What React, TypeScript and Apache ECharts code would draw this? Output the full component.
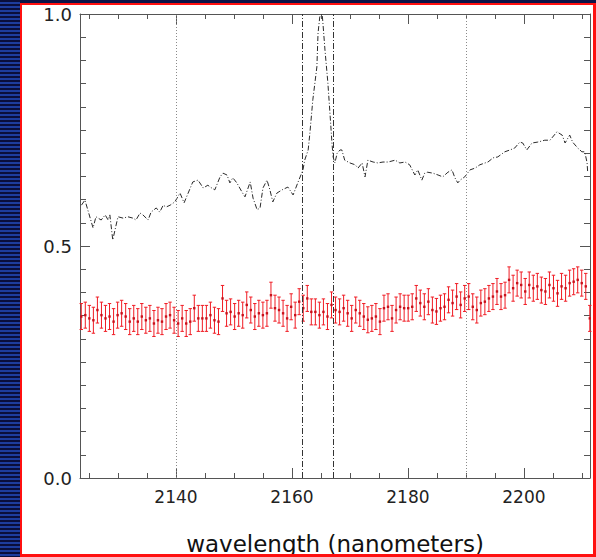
import React, { useEffect, useRef } from "react";
import * as echarts from "echarts";

// Normalised spectrum (wavelength in nm, relative flux)
const spectrumWavelength = [
  2123.7, 2124.3, 2125.7, 2126.2, 2127.1, 2127.8, 2128.3, 2128.6, 2129.1, 2130.0,
  2130.9, 2131.7, 2132.6, 2133.1, 2133.8, 2134.3, 2135.2, 2135.7, 2136.6, 2137.2,
  2137.8, 2138.3, 2139.0, 2139.8, 2140.7, 2141.4, 2142.1, 2142.9, 2143.8, 2144.7,
  2145.5, 2145.9, 2146.7, 2147.6, 2148.1, 2148.8, 2149.3, 2149.8, 2150.5, 2151.4,
  2151.9, 2152.8, 2153.3, 2154.0, 2154.5, 2155.0, 2155.7, 2156.2, 2156.7, 2157.4,
  2158.3, 2159.3, 2160.2, 2161.0, 2161.9, 2162.2, 2162.8, 2163.1, 2163.6, 2164.3,
  2164.5, 2164.8, 2165.2, 2165.3, 2165.7, 2166.2, 2166.6, 2166.9, 2167.1, 2167.4,
  2167.8, 2168.3, 2168.6, 2169.1, 2170.0, 2170.9, 2171.4, 2172.1, 2172.6, 2173.1,
  2174.0, 2174.8, 2175.7, 2176.6, 2177.8, 2178.6, 2179.5, 2180.3, 2181.2, 2181.7,
  2182.4, 2182.9, 2183.4, 2184.3, 2185.2, 2186.0, 2186.9, 2187.6, 2188.1, 2188.6,
  2189.0, 2189.8, 2190.7, 2191.6, 2192.4, 2193.3, 2193.8, 2194.7, 2195.5, 2196.7,
  2197.6, 2198.4, 2199.3, 2199.8, 2200.5, 2201.4, 2202.4, 2203.6, 2204.5, 2205.7,
  2206.6, 2207.1, 2207.9, 2208.4, 2209.3, 2210.0, 2210.5, 2210.9, 2211.0,
];
const spectrumFlux = [
  0.588, 0.599, 0.539, 0.563, 0.556, 0.567, 0.556, 0.567, 0.513, 0.563,
  0.560, 0.563, 0.560, 0.556, 0.571, 0.567, 0.556, 0.573, 0.582, 0.573,
  0.588, 0.584, 0.588, 0.595, 0.614, 0.593, 0.614, 0.638, 0.642, 0.625,
  0.631, 0.627, 0.621, 0.649, 0.657, 0.653, 0.636, 0.647, 0.636, 0.616,
  0.606, 0.638, 0.603, 0.578, 0.582, 0.625, 0.642, 0.621, 0.595, 0.614,
  0.621, 0.627, 0.610, 0.636, 0.664, 0.685, 0.707, 0.744, 0.815, 0.886,
  0.959, 0.994, 1.0, 0.987, 0.922, 0.851, 0.778, 0.722, 0.692, 0.679,
  0.700, 0.707, 0.707, 0.685, 0.679, 0.675, 0.668, 0.679, 0.649, 0.685,
  0.681, 0.679, 0.681, 0.681, 0.685, 0.679, 0.681, 0.675, 0.653, 0.664,
  0.642, 0.657, 0.659, 0.657, 0.653, 0.649, 0.659, 0.664, 0.647, 0.636,
  0.642, 0.649, 0.664, 0.668, 0.675, 0.679, 0.681, 0.690, 0.692, 0.703,
  0.707, 0.711, 0.724, 0.722, 0.707, 0.722, 0.724, 0.728, 0.728, 0.746,
  0.739, 0.722, 0.739, 0.724, 0.711, 0.703, 0.703, 0.679, 0.659,
];

// Binned ratio with error bars, sampled on a regular wavelength grid
const ratioStart = 2123.67;
const ratioStep = 0.696;
const ratioValues = [
  0.348, 0.351, 0.344, 0.340, 0.362, 0.351, 0.344, 0.348, 0.337, 0.351,
  0.355, 0.348, 0.337, 0.344, 0.337, 0.348, 0.340, 0.344, 0.333, 0.340,
  0.337, 0.348, 0.351, 0.340, 0.333, 0.344, 0.333, 0.337, 0.366, 0.344,
  0.344, 0.344, 0.351, 0.340, 0.337, 0.387, 0.355, 0.358, 0.348, 0.355,
  0.351, 0.373, 0.362, 0.348, 0.355, 0.351, 0.355, 0.394, 0.366, 0.362,
  0.355, 0.344, 0.369, 0.351, 0.380, 0.366, 0.387, 0.358, 0.358, 0.351,
  0.358, 0.348, 0.373, 0.362, 0.358,
  0.366, 0.355, 0.344, 0.362, 0.355, 0.348, 0.341, 0.344, 0.348, 0.337,
  0.366, 0.369, 0.344, 0.362, 0.369, 0.366, 0.366, 0.369, 0.387, 0.377,
  0.369, 0.380, 0.362, 0.359, 0.366, 0.369, 0.384, 0.377, 0.391, 0.373,
  0.387, 0.391, 0.369, 0.362, 0.377, 0.380, 0.387, 0.391, 0.402, 0.391,
  0.394, 0.427, 0.409, 0.420, 0.416, 0.402, 0.416, 0.409, 0.413, 0.405,
  0.402, 0.416, 0.409, 0.398, 0.413, 0.409, 0.420, 0.423, 0.427, 0.420,
  0.413, 0.344,
];
const ratioError = 0.028;

// Axis ticks
const xMin = 2123.45;
const xMax = 2211.4;
const xMajorTicks = [2140, 2160, 2180, 2200];
const xMinorTicks = [
  2125, 2130, 2135, 2140, 2145, 2150, 2155, 2160, 2165, 2170,
  2175, 2180, 2185, 2190, 2195, 2200, 2205, 2210,
];
// Reference markers
const dottedMarkers = [2140, 2190];
const lineWindow = [2161.7, 2167.1];

const FONT = "DejaVu Sans";
const AXIS_COLOR = "#555";

export default function App() {
  const ref = useRef<HTMLDivElement>(null);

  useEffect(() => {
    if (!ref.current) return;
    const chart = echarts.init(ref.current, null, { renderer: "svg" });

    const spectrum = spectrumWavelength.map((w, i) => [w, spectrumFlux[i]]);
    const ratio = ratioValues.map((v, i) => [
      +(ratioStart + i * ratioStep).toFixed(3),
      v,
      ratioError,
    ]);

    const xAxisBase = (position: "bottom" | "top", ticks: number[], len: number, labels: boolean, line: boolean) => ({
      type: "value",
      position,
      min: xMin,
      max: xMax,
      axisLine: { show: line, onZero: false, lineStyle: { color: AXIS_COLOR, width: 1 } },
      axisTick: {
        show: true,
        inside: true,
        length: len,
        customValues: ticks,
        lineStyle: { color: AXIS_COLOR, width: 1 },
      },
      axisLabel: labels
        ? {
            show: true,
            customValues: ticks,
            fontFamily: FONT,
            fontSize: 17,
            color: "#222",
            margin: 10,
            formatter: (v: number) => String(Math.round(v)),
          }
        : { show: false },
      splitLine: { show: false },
    });

    const bottomMajor: any = xAxisBase("bottom", xMajorTicks, 10, true, true);
    bottomMajor.name = "wavelength (nanometers)";
    bottomMajor.nameLocation = "middle";
    bottomMajor.nameGap = 54;
    bottomMajor.nameTextStyle = { fontFamily: FONT, fontSize: 23, color: "#111" };

    const yAxisBase = (position: "left" | "right", labels: boolean) => ({
      type: "value",
      position,
      min: 0,
      max: 1,
      interval: 0.5,
      axisLine: { show: true, onZero: false, lineStyle: { color: AXIS_COLOR, width: 1 } },
      axisTick: { show: true, inside: true, length: 10, lineStyle: { color: AXIS_COLOR } },
      minorTick: { show: true, splitNumber: 10, length: 6, lineStyle: { color: AXIS_COLOR } },
      axisLabel: labels
        ? {
            show: true,
            fontFamily: FONT,
            fontSize: 18,
            color: "#222",
            margin: 8,
            formatter: (v: number) => v.toFixed(1),
          }
        : { show: false },
      splitLine: { show: false },
      minorSplitLine: { show: false },
    });

    chart.setOption({
      animation: false,
      backgroundColor: "#ffffff",
      grid: {
        left: 80,
        top: 14,
        right: 6,
        bottom: 79,
        containLabel: false,
        outerBoundsMode: "none",
      },
      xAxis: [
        bottomMajor,
        xAxisBase("bottom", xMinorTicks, 5, false, false),
        xAxisBase("top", xMajorTicks, 10, false, true),
        xAxisBase("top", xMinorTicks, 5, false, false),
      ],
      yAxis: [yAxisBase("left", true), yAxisBase("right", false)],
      series: [
        {
          type: "line",
          data: spectrum,
          xAxisIndex: 0,
          yAxisIndex: 0,
          showSymbol: false,
          symbol: "none",
          lineStyle: { color: "#2a2a2a", width: 1, type: [5, 2, 1, 2] },
          silent: true,
          markLine: {
            silent: true,
            symbol: ["none", "none"],
            label: { show: false },
            data: [
              ...dottedMarkers.map((x) => ({
                xAxis: x,
                lineStyle: { color: "#8a8a8a", width: 1, type: [1, 2] },
              })),
              ...lineWindow.map((x) => ({
                xAxis: x,
                lineStyle: { color: "#333", width: 1, type: [6, 2, 1, 2] },
              })),
            ],
          },
        },
        {
          type: "custom",
          xAxisIndex: 0,
          yAxisIndex: 0,
          data: ratio,
          encode: { x: 0, y: 1 },
          silent: true,
          renderItem: (params: any, api: any) => {
            const x = api.value(0);
            const y = api.value(1);
            const e = api.value(2);
            const c = api.coord([x, y]);
            const lo = api.coord([x, y - e]);
            const hi = api.coord([x, y + e]);
            const cap = 1.7;
            const stroke = { stroke: "#f01c24", lineWidth: 1 };
            return {
              type: "group",
              children: [
                { type: "line", shape: { x1: c[0], y1: lo[1], x2: c[0], y2: hi[1] }, style: stroke },
                { type: "line", shape: { x1: c[0] - cap, y1: lo[1], x2: c[0] + cap, y2: lo[1] }, style: stroke },
                { type: "line", shape: { x1: c[0] - cap, y1: hi[1], x2: c[0] + cap, y2: hi[1] }, style: stroke },
                { type: "rect", shape: { x: c[0] - 1.2, y: c[1] - 1.2, width: 2.4, height: 2.4 }, style: { fill: "#c8101a" } },
              ],
            };
          },
        },
      ],
    });

    return () => chart.dispose();
  }, []);

  return (
    <div
      style={{
        position: "fixed",
        left: 0,
        top: 0,
        width: 596,
        height: 557,
        background: "#ffffff",
        overflow: "hidden",
      }}
    >
      <div ref={ref} style={{ position: "absolute", left: 0, top: 0, width: 596, height: 557 }} />
      {/* striped side band */}
      <div
        style={{
          position: "absolute",
          left: 0,
          top: 0,
          width: 20,
          height: 557,
          background:
            "repeating-linear-gradient(to bottom, #0a0e3c 0px, #0a0e3c 2px, #1d3c9e 2px, #1d3c9e 4px)",
        }}
      />
      {/* top band */}
      <div style={{ position: "absolute", left: 20, top: 0, width: 576, height: 3, background: "#0c1448" }} />
      {/* red frame */}
      <div
        style={{
          position: "absolute",
          left: 20,
          top: 3,
          width: 576,
          height: 554,
          boxSizing: "border-box",
          borderLeft: "2px solid #ff1010",
          borderTop: "2px solid #ff1010",
          borderRight: "3px solid #ff1010",
          borderBottom: "3px solid #ff1010",
        }}
      />
    </div>
  );
}
